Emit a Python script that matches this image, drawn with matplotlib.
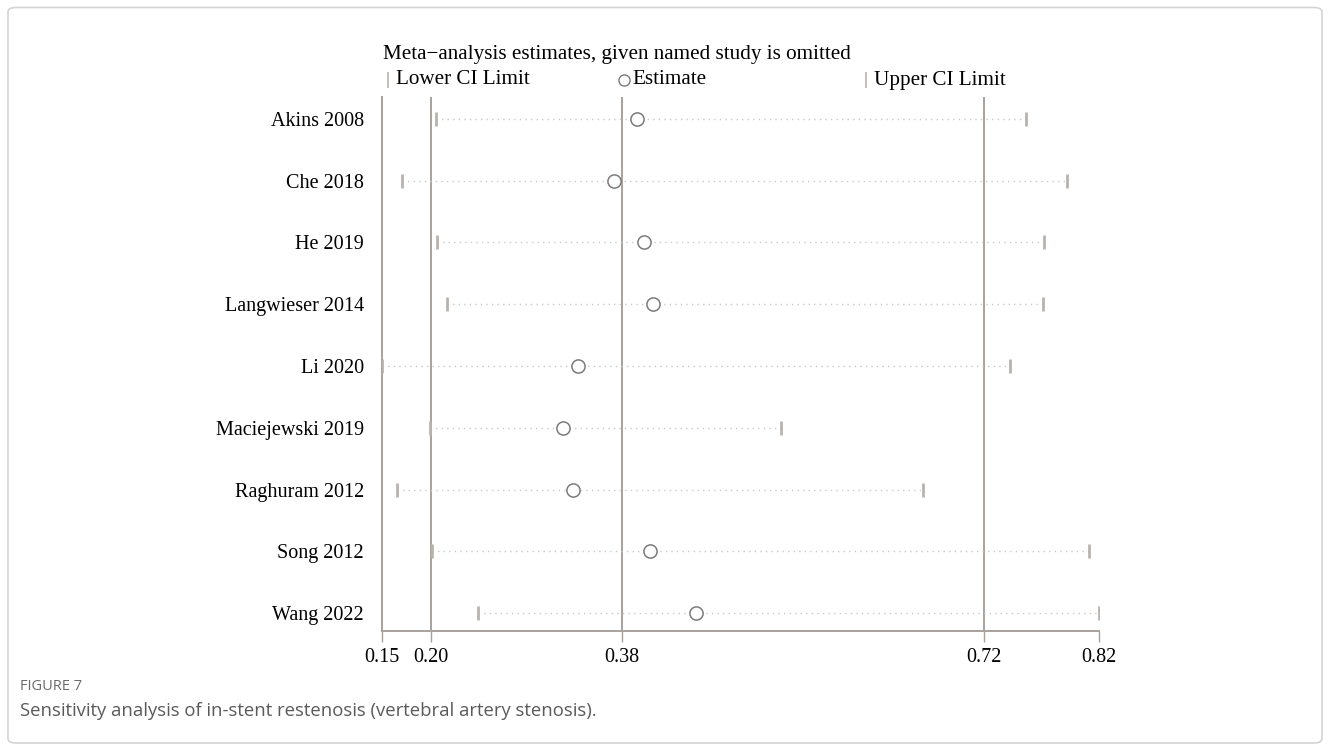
import matplotlib.pyplot as plt
from matplotlib.lines import Line2D
from matplotlib.patches import FancyBboxPatch

# leave-one-out sensitivity estimates (study omitted -> pooled estimate and CI)
studies = ["Akins 2008", "Che 2018", "He 2019", "Langwieser 2014", "Li 2020",
           "Maciejewski 2019", "Raghuram 2012", "Song 2012", "Wang 2022"]
estimate = [0.394, 0.372, 0.400, 0.409, 0.338, 0.324, 0.334, 0.406, 0.449]
lower = [0.205, 0.173, 0.206, 0.215, 0.154, 0.199, 0.168, 0.201, 0.244]
upper = [0.760, 0.798, 0.777, 0.776, 0.745, 0.529, 0.663, 0.819, 0.828]

# overall pooled estimate with its CI
overall = [0.20, 0.38, 0.72]
tick_labels = ["0.15", "0.20", "0.38", "0.72", "0.82"]

SERIF = "Liberation Serif"
LINE = "#a8a29e"
DOT = "#c9c9c9"
CAP = "#b9b3ae"
CIRC = "#7b7b7b"

plt.rcParams["font.family"] = SERIF

fig = plt.figure(figsize=(13.3, 7.49), dpi=100)

# light rounded frame round the whole panel
fig.add_artist(FancyBboxPatch((0.006, 0.008), 0.988, 0.982,
                              boxstyle="round,pad=0,rounding_size=0.006",
                              transform=fig.transFigure, fc="none",
                              ec="#d4d4d4", lw=1.2))

ax = fig.add_axes([0.2872, 0.1576, 0.8261 - 0.2872, 0.8705 - 0.1576])
y = list(range(len(studies)))

for v in overall:
    ax.axvline(v, color=LINE, lw=1.4, zorder=1)

for yi, lo, hi in zip(y, lower, upper):
    ax.plot([lo, hi], [yi, yi], ls=(0, (1, 3)), color=DOT, lw=1.0, zorder=2)
ax.plot(lower, y, ls="none", marker="|", ms=10, mew=2.0, color=CAP, zorder=3)
ax.plot(upper, y, ls="none", marker="|", ms=10, mew=2.0, color=CAP, zorder=3)
ax.plot(estimate, y, ls="none", marker="o", ms=9.5, mfc="white", mec=CIRC,
        mew=1.1, zorder=4)

lo_all, hi_all = min(lower), max(upper)
ax.set_xlim(lo_all, hi_all)
ax.set_ylim(len(studies) - 1 + 0.29, -0.356)
ax.set_xticks([lo_all] + overall + [hi_all])
ax.set_xticklabels(tick_labels)
ax.set_yticks(y)
ax.set_yticklabels(studies)
ax.tick_params(axis="y", length=0, pad=13, labelsize=14.5)
ax.tick_params(axis="x", length=8, width=1.0, color=LINE, pad=4, labelsize=14.5)
for s in ("top", "right"):
    ax.spines[s].set_visible(False)
for s in ("left", "bottom"):
    ax.spines[s].set_color(LINE)
    ax.spines[s].set_linewidth(1.4)

# title and key above the plot
fig.text(383 / 1330, 1 - 55 / 749, "Meta\u2212analysis estimates, given named study is omitted",
         fontsize=15.2, va="center", ha="left")
key = [(388, "|", "Lower CI Limit"), (624, "o", "Estimate"), (866, "|", "Upper CI Limit")]
for px, mk, label in key:
    fy = 1 - 80 / 749
    if mk == "|":
        fig.add_artist(Line2D([px / 1330], [fy], transform=fig.transFigure, ls="none",
                              marker="|", ms=11, mew=1.2, color=CAP))
    else:
        fig.add_artist(Line2D([px / 1330], [fy], transform=fig.transFigure, ls="none",
                              marker="o", ms=8, mfc="white", mec=CIRC, mew=1.0))
    fig.text((px + 8) / 1330, fy, label, fontsize=15.2, va="center", ha="left")

# figure caption
fig.text(20 / 1330, 1 - 686 / 749, "FIGURE 7", fontsize=10.5, color="#6b6b6b",
         family="Open Sans", va="center", ha="left")
fig.text(20 / 1330, 1 - 711 / 749,
         "Sensitivity analysis of in-stent restenosis (vertebral artery stenosis).",
         fontsize=13.3, color="#5a5a5a", family="Open Sans", va="center", ha="left")

fig.savefig("out.png", dpi=100)
